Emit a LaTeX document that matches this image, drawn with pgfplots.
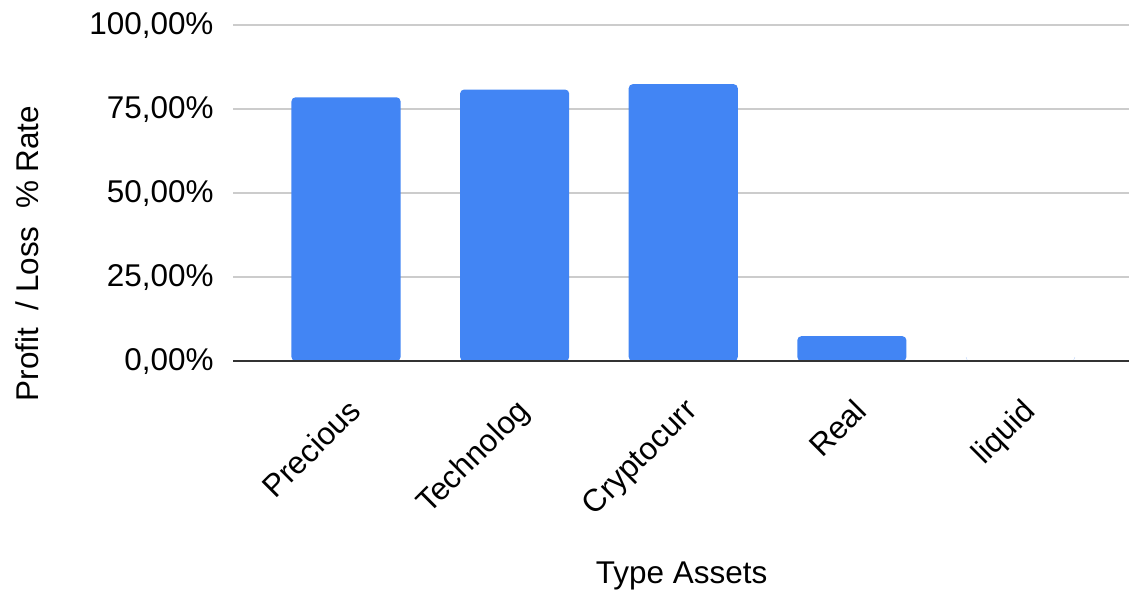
\documentclass[border=0pt]{standalone}
\usepackage{fontspec}
\setmainfont{Liberation Sans}
\usepackage{pgfplots}
\pgfplotsset{compat=1.18}
\definecolor{barblue}{HTML}{4285F4}
\definecolor{gridgray}{HTML}{CCCCCC}
\definecolor{axisdark}{HTML}{333333}
\begin{document}
\begin{tikzpicture}[x=1pt,y=1pt]
% 1px = 0.375pt; axis area spans px 233..1130 x 25..361
\useasboundingbox (-87.4pt,-86.25pt) rectangle (336pt,135.4pt);
\begin{axis}[
  at={(0pt,0pt)}, anchor=south west,
  scale only axis,
  width=336.4pt, height=126pt,
  ybar, bar width=40.9pt,
  xmin=-0.67, xmax=4.65,
  ymin=0, ymax=100,
  xtick={0,1,2,3,4},
  xticklabels={Precious,Technolog,Cryptocurr,Real,liquid},
  ytick={0,25,50,75,100},
  major tick length=0pt,
  font=\fontsize{11.8}{14}\selectfont,
  /pgf/number format/assume math mode=true,
  yticklabel={\pgfmathprintnumber[fixed,fixed zerofill,precision=2,use comma]{\tick}\%},
  yticklabel style={xshift=-3.8pt},
  xticklabel style={rotate=45, anchor=north east, xshift=-6pt, yshift=-6pt},
  ymajorgrids,
  grid style={gridgray, line width=0.5pt},
  axis line style={draw=none},
  axis x line*=bottom, axis y line*=left,
  xlabel={Type Assets},
  xlabel style={at={(0.5,0)}, anchor=center, yshift=-80.5pt},
  ylabel={Profit\ \ / Loss\ \ \% Rate},
  ylabel style={at={(-0.229,0.32)}, anchor=center, rotate=0},
  clip=false,
]
\addplot[fill=barblue, draw=none, rounded corners=1.5pt] coordinates {(0,78.5) (1,80.8) (2,82.4) (3,7.4) (4,0)};
\draw[axisdark, line width=0.75pt] (axis cs:-0.67,0) -- (axis cs:4.65,0);
\end{axis}
\end{tikzpicture}
\end{document}
